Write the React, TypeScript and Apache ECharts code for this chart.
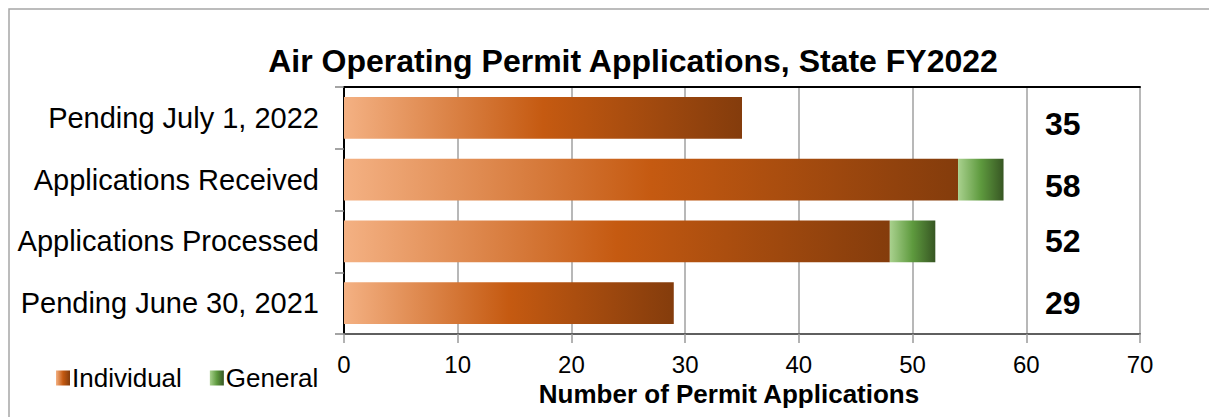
import React, { useEffect, useRef } from "react";
import * as echarts from "echarts";

const categories = [
  "Pending July 1, 2022",
  "Applications Received",
  "Applications Processed",
  "Pending June 30, 2021",
];
const individual = [35, 54, 48, 29];
const general = [0, 4, 4, 0];
const totals = [35, 58, 52, 29];
const xMin = 0;
const xMax = 70;
const xInterval = 10;

const FONT = '"Liberation Sans", Arial, sans-serif';
const LABEL_X = 63.2;
const LABEL_NUDGE_Y = [6, 6, 0, 0];

export default function App() {
  const ref = useRef<HTMLDivElement>(null);

  useEffect(() => {
    if (!ref.current) return;
    const chart = echarts.init(ref.current, undefined, { renderer: "svg" });

    const indGrad = new echarts.graphic.LinearGradient(0, 0, 1, 0, [
      { offset: 0, color: "#F4B183" },
      { offset: 0.5, color: "#C55A11" },
      { offset: 1, color: "#843C0C" },
    ]);
    const genGrad = new echarts.graphic.LinearGradient(0, 0, 1, 0, [
      { offset: 0, color: "#A9D18E" },
      { offset: 0.5, color: "#5E9A3E" },
      { offset: 1, color: "#375623" },
    ]);

    chart.setOption({
      animation: false,
      backgroundColor: "#ffffff",
      textStyle: { fontFamily: FONT, color: "#000" },
      title: {
        text: "Air Operating Permit Applications, State FY2022",
        left: 633,
        top: 45,
        textAlign: "center",
        padding: 0,
        textStyle: { fontFamily: FONT, fontSize: 32, fontWeight: "bold", color: "#000" },
      },
      graphic: [
        {
          type: "rect",
          shape: { x: 9, y: 9, width: 1240, height: 440 },
          style: { fill: "none", stroke: "#a6a6a6", lineWidth: 1.5 },
          silent: true,
        },
      ],
      legend: {
        data: ["Individual", "General"],
        left: 51,
        top: 360,
        icon: "rect",
        itemWidth: 14,
        itemHeight: 15,
        itemGap: 28,
        textStyle: { fontFamily: FONT, fontSize: 26, color: "#000", padding: [0, 0, 0, -3] },
      },
      grid: { left: 344, right: 69, top: 87, bottom: 83, containLabel: false },
      xAxis: [
        {
          type: "value",
          min: xMin,
          max: xMax,
          interval: xInterval,
          name: "Number of Permit Applications",
          nameLocation: "middle",
          nameGap: 46,
          nameTextStyle: { fontFamily: FONT, fontSize: 26, fontWeight: "bold", color: "#000", padding: [0, 26, 0, 0] },
          axisLine: { show: true, lineStyle: { color: "#5f5f5f", width: 2 } },
          axisTick: { show: true, length: 9, lineStyle: { color: "#9a9a9a", width: 1.5 } },
          axisLabel: { fontFamily: FONT, fontSize: 24, color: "#000", margin: 18 },
          splitLine: { show: true, lineStyle: { color: "#a0a0a0", width: 1.5 } },
        },
        {
          type: "value",
          position: "top",
          min: xMin,
          max: xMax,
          interval: xInterval,
          axisLine: { show: true, lineStyle: { color: "#000", width: 2 } },
          axisTick: { show: false },
          axisLabel: { show: false },
          splitLine: { show: false },
        },
      ],
      yAxis: [
        {
          type: "category",
          data: categories,
          inverse: true,
          axisLine: { show: true, lineStyle: { color: "#868686", width: 2 } },
          axisTick: { show: true, length: 9, lineStyle: { color: "#868686", width: 1.5 } },
          axisLabel: { fontFamily: FONT, fontSize: 29, color: "#000", margin: 25 },
          splitLine: { show: false },
        },
        {
          type: "category",
          data: categories,
          inverse: true,
          position: "right",
          axisLine: { show: true, lineStyle: { color: "#000", width: 2 } },
          axisTick: { show: false },
          axisLabel: { show: false },
          splitLine: { show: false },
        },
      ],
      series: [
        {
          name: "Individual",
          type: "bar",
          stack: "total",
          barWidth: "68%",
          data: individual,
          itemStyle: { color: indGrad },
        },
        {
          name: "General",
          type: "bar",
          stack: "total",
          barWidth: "68%",
          data: general,
          itemStyle: { color: genGrad },
        },
        {
          name: "Total",
          type: "scatter",
          symbolSize: 1,
          itemStyle: { color: "rgba(0,0,0,0)" },
          data: totals.map((t, i) => ({
            value: [LABEL_X, categories[i]],
            label: { offset: [0, LABEL_NUDGE_Y[i]] },
          })),
          label: {
            show: true,
            position: "inside",
            formatter: (p: any) => String(totals[p.dataIndex]),
            fontFamily: FONT,
            fontSize: 32,
            fontWeight: "bold",
            color: "#000000",
            textBorderWidth: 0,
            opacity: 1,
          },
          emphasis: { disabled: true },
          z: 5,
        },
      ],
    });

    return () => chart.dispose();
  }, []);

  return (
    <div
      ref={ref}
      style={{ position: "absolute", left: 0, top: 0, width: 1209, height: 417 }}
    />
  );
}
